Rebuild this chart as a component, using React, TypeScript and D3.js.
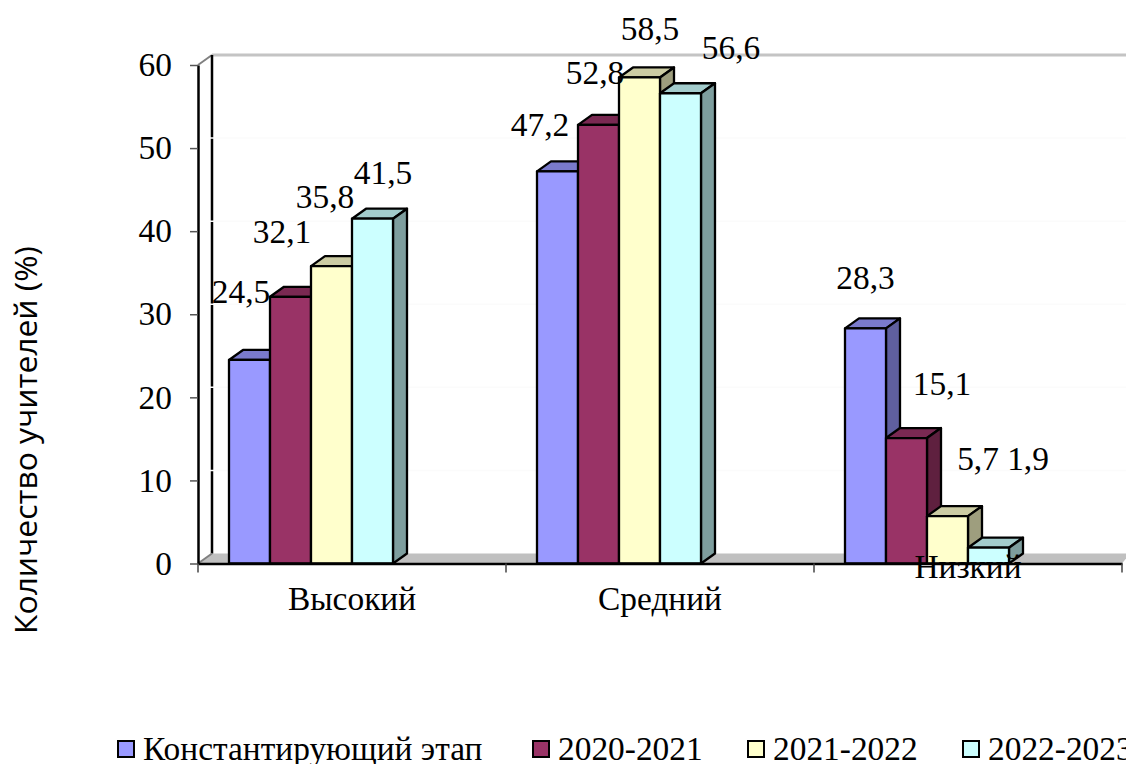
import React, { useRef, useEffect } from 'react';
import * as d3 from 'd3';

const categories = ['Высокий', 'Средний', 'Низкий'];
const seriesNames = ['Константирующий этап', '2020-2021', '2021-2022', '2022-2023'];
const stage = [24.5, 47.2, 28.3];
const y2020 = [32.1, 52.8, 15.1];
const y2021 = [35.8, 58.5, 5.7];
const y2022 = [41.5, 56.6, 1.9];
const yTicks = [0, 10, 20, 30, 40, 50, 60];

const seriesValues = [stage, y2020, y2021, y2022];
const colors = ['#9999ff', '#993366', '#ffffcc', '#ccffff'];

const width = 1126;
const height = 764;
const x0 = 198;
const x1 = 1122;
const y0 = 563.5;
const yTop = 65;
const depthX = 14;
const depthY = -10;
const serif = '"Liberation Serif", serif';
const fontSize = 33.4;

// data labels were placed by hand in the original: [series][category]
const labelDx = [
  [-8.5, -17.5, 0],
  [-8.5, -3.5, 35.5],
  [-6.5, 10.5, 30.5],
  [10.5, 50.5, 39.5],
];
const labelDy = [
  [-57, -35, -39],
  [-54, -41, -43],
  [-58, -37.5, -46],
  [-35, -34, -78],
];
const categoryY = [0, 0, -32];
const legendX = [118, 533, 748, 963];

const shade = (c: string, k: number) => {
  const r = d3.rgb(c);
  return d3.rgb(r.r * k, r.g * k, r.b * k).formatHex();
};

const App: React.FC = () => {
  const ref = useRef<SVGSVGElement>(null);

  useEffect(() => {
    const svg = d3.select(ref.current);
    svg.selectAll('*').remove();

    const x = d3.scaleBand().domain(categories).range([x0, x1]);
    const inner = d3.scaleBand().domain(seriesNames).range([31, 195]);
    const y = d3.scaleLinear().domain([0, 60]).range([y0, yTop]);
    const line = d3.line();

    /** Walls and floor */
    const wall = svg.append('g');
    wall
      .append('path')
      .attr('d', line([[x0, y0], [x0 + depthX, y0 + depthY], [width + 4, y0 + depthY], [width - 4, y0]]))
      .attr('fill', '#c0c0c0');
    wall
      .append('path')
      .attr('d', line([[x0 + depthX, y(60) + depthY], [width, y(60) + depthY]]))
      .attr('stroke', '#c4c4c4')
      .attr('stroke-width', 3);
    wall
      .append('path')
      .attr('d', line([[x0, y(60)], [x0 + depthX, y(60) + depthY]]))
      .attr('stroke', '#808080')
      .attr('stroke-width', 2);
    wall
      .append('path')
      .attr('d', line([[x0 + depthX, y(60) + depthY], [x0 + depthX, y0 + depthY]]))
      .attr('stroke', '#000')
      .attr('stroke-width', 2.5);
    wall
      .append('path')
      .attr('d', line([[x0, y0], [x0 + depthX, y0 + depthY]]))
      .attr('stroke', '#808080')
      .attr('stroke-width', 2);
    // gridlines are almost white and nick the wall line where they start
    wall
      .selectAll('line.grid')
      .data(yTicks.slice(1, -1))
      .join('line')
      .attr('x1', x0 + depthX - 2)
      .attr('x2', width)
      .attr('y1', (d) => y(d) + depthY)
      .attr('y2', (d) => y(d) + depthY)
      .attr('stroke', '#fbfbfb')
      .attr('stroke-width', 1.5);

    /** Axes */
    const yAxis = svg
      .append('g')
      .attr('transform', `translate(${x0},0)`)
      .call(d3.axisLeft(y).tickValues(yTicks).tickSize(8).tickPadding(18).tickSizeOuter(0));
    yAxis.select('.domain').attr('stroke', '#000').attr('stroke-width', 2.5);
    yAxis.selectAll('.tick line').attr('stroke', '#555').attr('stroke-width', 1.5);
    yAxis.selectAll('text').attr('font-family', serif).attr('font-size', fontSize).attr('fill', '#000');

    /** Bars, painted left to right so the next front hides the previous side */
    const bars = svg.append('g').attr('stroke', '#000').attr('stroke-width', 2.3).attr('stroke-linejoin', 'round');
    categories.forEach((cat, ci) => {
      seriesNames.forEach((name, si) => {
        const v = seriesValues[si][ci];
        const l = (x(cat) ?? 0) + (inner(name) ?? 0);
        const r = l + inner.bandwidth();
        const t = y(v);
        const c = colors[si];
        const g = bars.append('g');
        g.append('path')
          .attr('d', line([[l, t], [l + depthX, t + depthY], [r + depthX, t + depthY], [r, t]]) + 'Z')
          .attr('fill', shade(c, 0.8));
        g.append('path')
          .attr('d', line([[r, t], [r + depthX, t + depthY], [r + depthX, y0 + depthY], [r, y0]]) + 'Z')
          .attr('fill', shade(c, 0.62));
        g.append('rect')
          .attr('x', l)
          .attr('y', t)
          .attr('width', r - l)
          .attr('height', y0 - t)
          .attr('fill', c);
      });
    });

    /** X axis on top of the bars */
    const xAxis = svg
      .append('g')
      .attr('transform', `translate(0,${y0})`)
      .call(d3.axisBottom(x).tickSize(0).tickPadding(23).tickSizeOuter(0));
    xAxis.select('.domain').attr('stroke', '#000').attr('stroke-width', 2.5);
    xAxis
      .selectAll('text')
      .attr('font-family', serif)
      .attr('font-size', fontSize)
      .attr('fill', '#000')
      .attr('dy', '0.71em')
      .attr('transform', (_, i) => `translate(0,${categoryY[i]})`);
    svg
      .append('g')
      .selectAll('line')
      .data(d3.range(categories.length + 1))
      .join('line')
      .attr('x1', (i) => x0 + i * x.step())
      .attr('x2', (i) => x0 + i * x.step())
      .attr('y1', y0)
      .attr('y2', y0 + 9)
      .attr('stroke', '#444')
      .attr('stroke-width', 1.5);

    /** Data labels */
    seriesNames.forEach((name, si) => {
      categories.forEach((cat, ci) => {
        const v = seriesValues[si][ci];
        const cx = (x(cat) ?? 0) + (inner(name) ?? 0) + inner.bandwidth() / 2;
        svg
          .append('text')
          .attr('x', cx + labelDx[si][ci])
          .attr('y', y(v) + labelDy[si][ci])
          .attr('text-anchor', 'middle')
          .attr('font-family', serif)
          .attr('font-size', fontSize)
          .text(String(v).replace('.', ','));
      });
    });

    /** Axis title */
    svg
      .append('text')
      .attr('transform', 'translate(37,440) rotate(-90)')
      .attr('text-anchor', 'middle')
      .attr('font-family', '"Open Sans", sans-serif')
      .attr('font-size', 31.8)
      .text('Количество учителей (%)');

    /** Legend */
    const legend = svg
      .append('g')
      .selectAll('g')
      .data(seriesNames)
      .join('g')
      .attr('transform', (_, i) => `translate(${legendX[i]},0)`);
    legend
      .append('rect')
      .attr('y', 741)
      .attr('width', 16)
      .attr('height', 16)
      .attr('fill', (_, i) => colors[i])
      .attr('stroke', '#000')
      .attr('stroke-width', 2);
    legend
      .append('text')
      .attr('x', 25)
      .attr('y', 760)
      .attr('font-family', serif)
      .attr('font-size', fontSize)
      .text((d) => d);
  }, []);

  return (
    <svg
      ref={ref}
      width={width}
      height={height}
      viewBox={`0 0 ${width} ${height}`}
      style={{ position: 'absolute', left: 0, top: 0, background: '#fff' }}
    />
  );
};

export default App;
